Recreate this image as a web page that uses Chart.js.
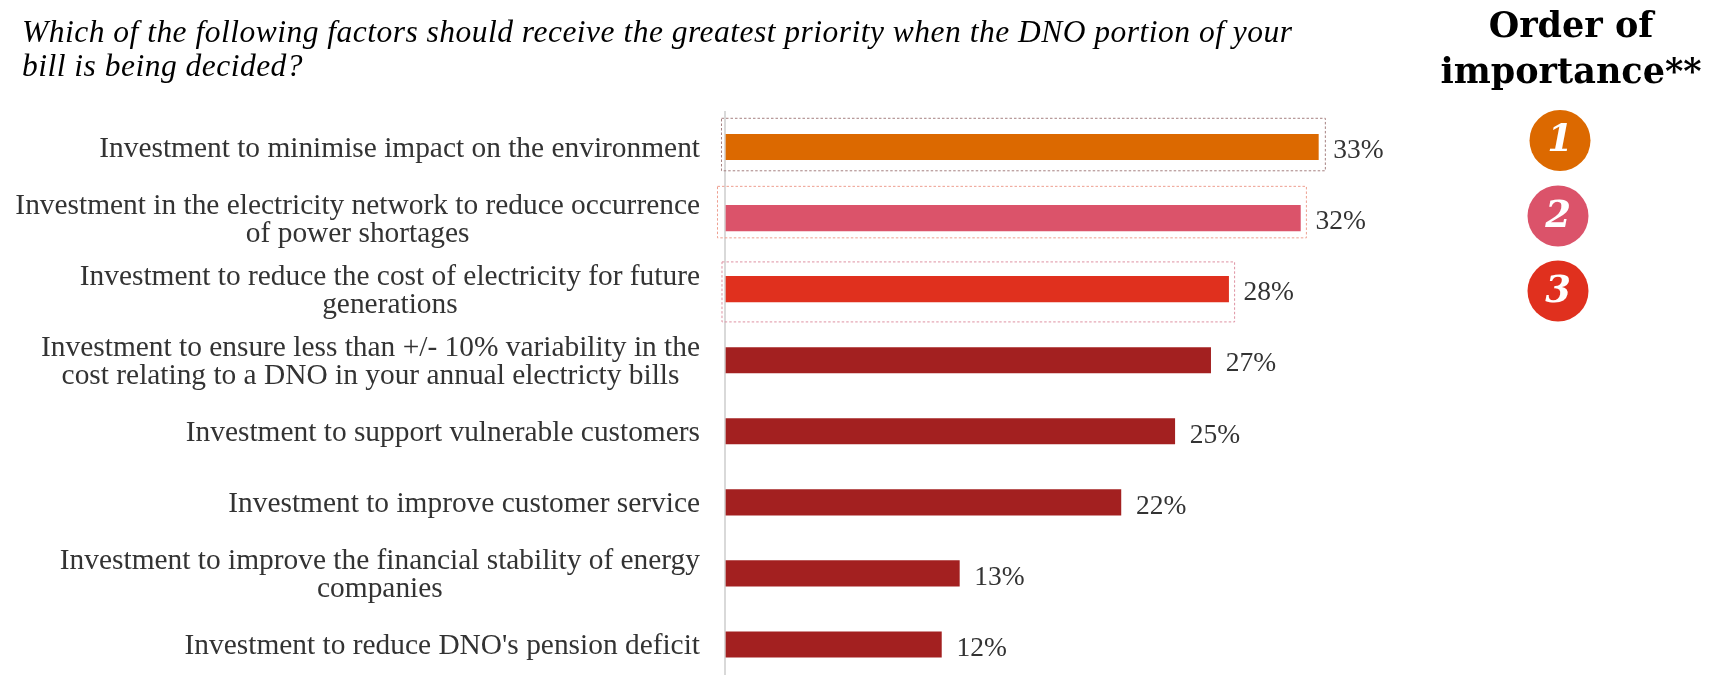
<!DOCTYPE html>
<html>
<head>
<meta charset="utf-8">
<script src="https://cdn.jsdelivr.net/npm/chart.js@4"></script>
<style>
html,body{margin:0;padding:0;background:#fff;overflow:hidden}
#wrap{width:1709px;height:675px;overflow:hidden}
canvas{display:block}
</style>
</head>
<body>
<div id="wrap"><canvas id="c" width="1709" height="700"></canvas></div>
<script>
const categories = [
  ["Investment to minimise impact on the environment"],
  ["Investment in the electricity network to reduce occurrence", "of power shortages"],
  ["Investment to reduce the cost of electricity for future", "generations"],
  ["Investment to ensure less than +/- 10% variability in the", "cost relating to a DNO in your annual electricty bills"],
  ["Investment to support vulnerable customers"],
  ["Investment to improve customer service"],
  ["Investment to improve the financial stability of energy", "companies"],
  ["Investment to reduce DNO's pension deficit"]
];
const shares = [33, 32, 28, 27, 25, 22, 13, 12];
const barColors = ["#dc6900", "#db536a", "#e0301e", "#a32020", "#a32020", "#a32020", "#a32020", "#a32020"];
const titleLines = [
  "Which of the following factors should receive the greatest priority when the DNO portion of your",
  "bill is being decided?"
];
const headingLines = ["Order of", "importance**"];
const ranks = ["1", "2", "3"];

const SERIF = '"Liberation Serif", serif';
const HEAVY_SERIF = '"DejaVu Serif", serif';
const boxStyles = [
  {color: "#a58080", left: 4.5, right: 7, top: 16, bottom: 11},
  {color: "#ee9f90", left: 8.5, right: 6, top: 19, bottom: 7},
  {color: "#de92a2", left: 4, right: 6, top: 14.5, bottom: 20}
];
const badges = [
  {x: 1560, y: 140.5},
  {x: 1558, y: 216},
  {x: 1558, y: 291}
];

// Category labels: each block is right-aligned to the axis, its lines centred on one another.
const categoryLabels = {
  id: "categoryLabels",
  afterDraw(chart) {
    const {ctx, scales: {y}} = chart;
    ctx.save();
    ctx.font = "29.4px " + SERIF;
    ctx.fillStyle = "#333333";
    ctx.textBaseline = "middle";
    ctx.textAlign = "center";
    categories.forEach((lines, i) => {
      const cy = y.getPixelForTick(i) + 2;
      const widest = Math.max(...lines.map(l => ctx.measureText(l).width));
      const cx = 700 - widest / 2;
      lines.forEach((line, j) => {
        ctx.fillText(line, cx, cy + (j - (lines.length - 1) / 2) * 28.5);
      });
    });
    ctx.restore();
  }
};

// Value labels at the end of each bar and dotted frames round the top three.
const barAnnotations = {
  id: "barAnnotations",
  afterDatasetsDraw(chart) {
    const {ctx} = chart;
    const bars = chart.getDatasetMeta(0).data;
    ctx.save();
    boxStyles.forEach((s, i) => {
      const b = bars[i];
      const top = b.y - b.height / 2 - s.top;
      const bottom = b.y + b.height / 2 + s.bottom;
      const left = b.base - s.left;
      const right = b.x + s.right;
      ctx.strokeStyle = s.color;
      ctx.lineWidth = 1;
      ctx.setLineDash([2.5, 2]);
      ctx.strokeRect(left, top, right - left, bottom - top);
    });
    ctx.setLineDash([]);
    ctx.font = "27.5px " + SERIF;
    ctx.fillStyle = "#333333";
    ctx.textBaseline = "middle";
    ctx.textAlign = "left";
    bars.forEach((b, i) => {
      ctx.fillText(shares[i] + "%", b.x + 15, b.y + 4);
    });
    ctx.restore();
  }
};

// Question text, the ranking heading and the numbered badges.
const sideText = {
  id: "sideText",
  afterDraw(chart) {
    const {ctx} = chart;
    ctx.save();
    ctx.fillStyle = "#000000";
    ctx.textBaseline = "middle";
    ctx.textAlign = "left";
    ctx.font = "italic 31.5px " + SERIF;
    ctx.letterSpacing = "0.49px";
    titleLines.forEach((line, i) => ctx.fillText(line, 22, 34 + i * 34));
    ctx.letterSpacing = "0px";
    ctx.textAlign = "center";
    ctx.font = "bold 35px " + HEAVY_SERIF;
    headingLines.forEach((line, i) => ctx.fillText(line, 1571, 28 + i * 46));
    ranks.forEach((r, i) => {
      ctx.beginPath();
      ctx.arc(badges[i].x, badges[i].y, 30.5, 0, Math.PI * 2);
      ctx.fillStyle = barColors[i];
      ctx.fill();
      ctx.fillStyle = "#ffffff";
      ctx.font = "italic bold 37px " + HEAVY_SERIF;
      ctx.fillText(r, badges[i].x, badges[i].y + 1);
    });
    ctx.restore();
  }
};

new Chart(document.getElementById("c"), {
  type: "bar",
  data: {
    labels: categories,
    datasets: [{
      data: shares,
      backgroundColor: barColors,
      barThickness: 25.5,
      borderWidth: 0
    }]
  },
  options: {
    indexAxis: "y",
    responsive: false,
    animation: false,
    layout: {padding: {top: 111.5, bottom: 20, left: 0, right: 85.5}},
    plugins: {legend: {display: false}, tooltip: {enabled: false}, title: {display: false}},
    scales: {
      // The slightly negative minimum leaves the axis rule just left of the bar bases.
      x: {display: false, min: -0.0557, max: 50, grid: {display: false}},
      y: {
        grid: {display: false, drawTicks: false},
        border: {display: true, color: "#d9d9d9", width: 2},
        ticks: {display: false},
        afterFit(scale) { scale.width = 725; }
      }
    }
  },
  plugins: [categoryLabels, barAnnotations, sideText]
});
</script>
</body>
</html>
